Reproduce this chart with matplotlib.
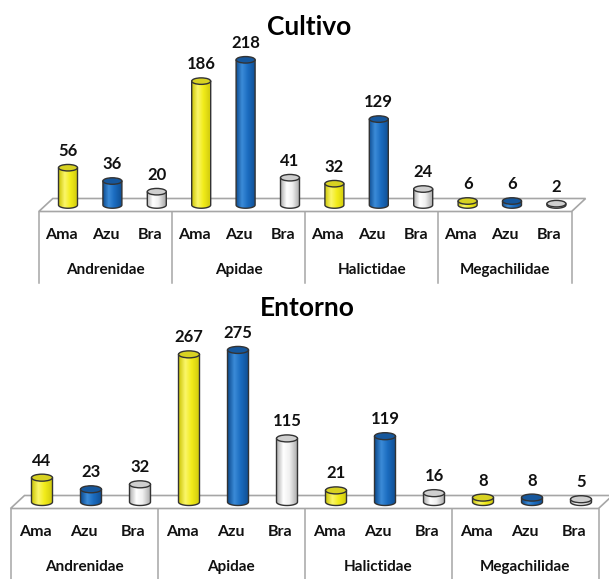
import numpy as np
import matplotlib
matplotlib.use("Agg")
import matplotlib.pyplot as plt
from matplotlib.patches import Polygon, Ellipse
from matplotlib.colors import LinearSegmentedColormap

# abejas capturadas por familia y color de trampa
familias = ["Andrenidae", "Apidae", "Halictidae", "Megachilidae"]
trampas = ["Ama", "Azu", "Bra"]
cultivo = [56, 36, 20, 186, 218, 41, 32, 129, 24, 6, 6, 2]
entorno = [44, 23, 32, 267, 275, 115, 21, 119, 16, 8, 8, 5]

plt.rcParams['font.family'] = ['Lato', 'DejaVu Sans']

W, H = 609, 579
fig = plt.figure(figsize=(W / 100, H / 100), dpi=100)

# borde oscuro, brillo, color base, borde oscuro
degradados = {
    "Ama": ["#cfc90c", "#fbf66a", "#f2ec1a", "#cfc90c"],
    "Azu": ["#0f4e92", "#3b8bd8", "#1b6cc0", "#0f4e92"],
    "Bra": ["#b4b4b4", "#ffffff", "#f0f0f0", "#a8a8a8"],
}
tapas = {"Ama": "#d8d222", "Azu": "#16579c", "Bra": "#cfcfcf"}
mapas = {k: LinearSegmentedColormap.from_list(k, list(zip([0, 0.3, 0.6, 1], c)))
         for k, c in degradados.items()}
gris = "#a6a6a6"
borde = "#333333"
grad = np.linspace(0, 1, 64).reshape(1, -1)


def panel(ax, valores, x0, paso, base, ppu, alto, ancho_px, elip_px, largo_div):
    ax.axis('off')
    dx = 1 / paso
    dy = 1 / ppu
    n = len(valores)
    pf = 7    # medio fondo del piso en px
    pz = 6.5

    # piso
    piso = Polygon([(-0.5 - pf * dx, -pz * dy), (n - 0.5 - pf * dx, -pz * dy),
                    (n - 0.5 + pf * dx, pz * dy), (-0.5 + pf * dx, pz * dy)],
                   closed=True, fc="white", ec=gris, lw=1.2, zorder=1)
    ax.add_patch(piso)
    for g in range(len(familias) + 1):
        xd = g * len(trampas) - 0.5 - pf * dx
        ax.plot([xd, xd], [-pz * dy, -(pz + largo_div) * dy], color=gris, lw=1.1, zorder=1)

    w = ancho_px * dx / 2
    e = elip_px * dy / 2
    th = np.linspace(np.pi, 2 * np.pi, 40)
    for i, v in enumerate(valores):
        t = trampas[i % len(trampas)]
        cuerpo = np.vstack([[i - w, v],
                            np.column_stack([i + w * np.cos(th), e * np.sin(th)]),
                            [i + w, v]])
        poly = Polygon(cuerpo, closed=True, fc="none", ec=borde, lw=1.0, zorder=4)
        ax.add_patch(poly)
        im = ax.imshow(grad, extent=[i - w, i + w, -e, v], cmap=mapas[t],
                       aspect='auto', zorder=3, interpolation='bilinear')
        im.set_clip_path(poly)
        ax.add_patch(Ellipse((i, v), 2 * w, 2 * e, fc=tapas[t], ec=borde, lw=1.0, zorder=5))
        ax.annotate(str(v), (i, v), xytext=(0, 17 * 0.72), textcoords='offset points',
                    ha='center', va='center', fontsize=12, fontweight='bold', color="#111111")
        ax.text(i - pf * dx, -30 * dy, t, ha='center', va='center', fontsize=11.5,
                fontweight='bold', color="#111111")
    for g, fam in enumerate(familias):
        xc = g * len(trampas) + 1 - pf * dx
        ax.text(xc, -65 * dy, fam, ha='center', va='center', fontsize=11,
                fontweight='bold', color="#111111")

    ax.set_xlim(-x0 / paso, (W - x0) / paso)
    ax.set_ylim(-(alto - base) / ppu, base / ppu)


ax1 = fig.add_axes([0, 289 / H, 1, 290 / H])
panel(ax1, cultivo, x0=68, paso=44.4, base=205, ppu=0.666, alto=290,
      ancho_px=19, elip_px=6.5, largo_div=71)
ax2 = fig.add_axes([0, 0, 1, 289 / H])
panel(ax2, entorno, x0=42, paso=49, base=212, ppu=0.553, alto=289,
      ancho_px=21, elip_px=7, largo_div=90)

fig.text(309 / W, 1 - 27 / H, "Cultivo", ha='center', va='center',
         fontsize=19, fontweight='bold')
fig.text(307 / W, 1 - 308 / H, "Entorno", ha='center', va='center',
         fontsize=19, fontweight='bold')

fig.savefig('out.png', dpi=100)
